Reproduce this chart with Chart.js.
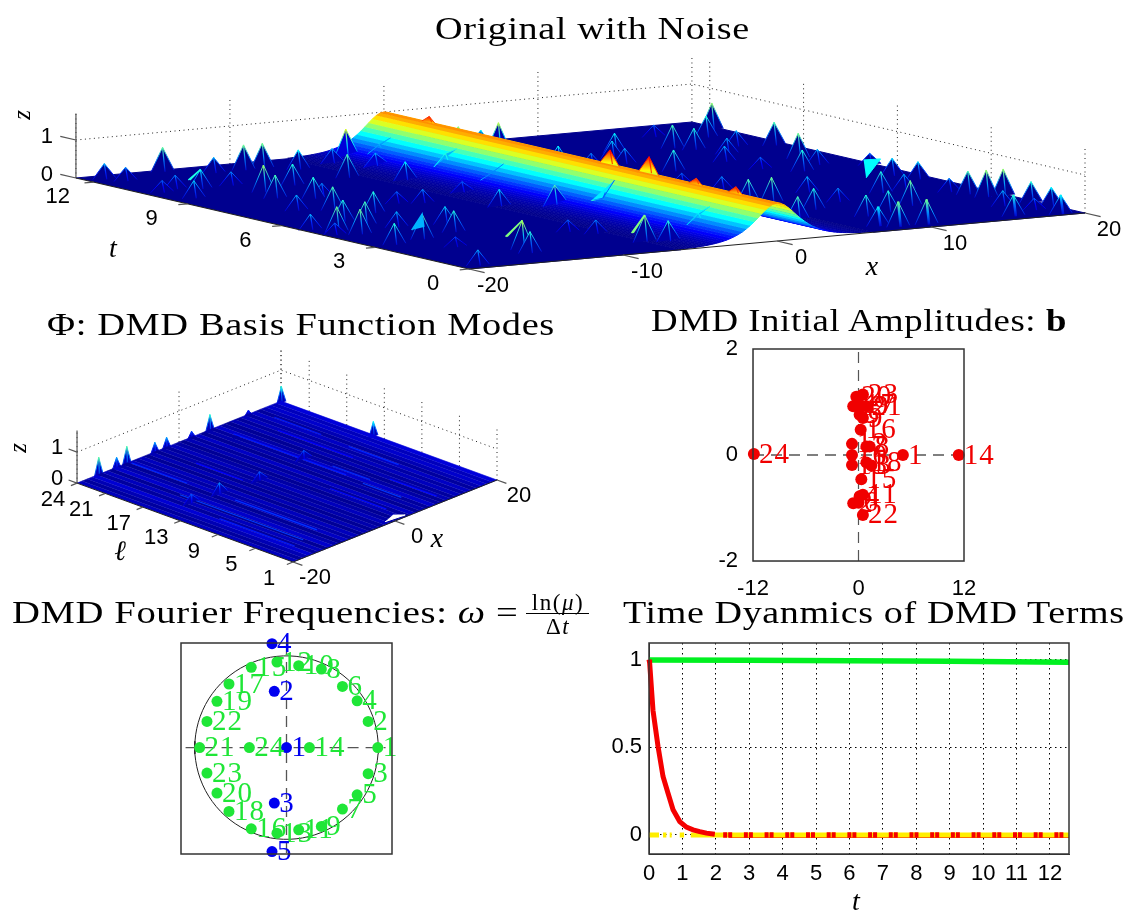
<!DOCTYPE html>
<html>
<head>
<meta charset="utf-8">
<title>DMD</title>
<script src="https://cdn.jsdelivr.net/npm/chart.js@4"></script>
<style>
  body { margin: 0; background: #fff; }
  #page { position: relative; width: 1135px; height: 913px; overflow: hidden; }
  canvas { position: absolute; left: 0; top: 0; }
  .ttl { position: absolute; white-space: nowrap; font-family: "Liberation Serif", serif; font-size: 31px; line-height: 34px; letter-spacing: 0.5px; color: #000; transform-origin: left center; }
  .frac { position: absolute; white-space: nowrap; font-family: "Liberation Serif", serif; font-size: 23px; line-height: 24px; letter-spacing: 1.5px; transform: translateX(-50%); }
</style>
</head>
<body>
<div id="page"></div>
<script>
// ---- top surface: noise spikes
const spikeX = [-18.83,-18.2,-14.6,-12.5,-10.5,-9.3,-7.8,-5.2,-3.7,-2.2,-2.04,-5.2,-7.2,-4.1,-11.3,-14,-14.7,-13,-14.4,-14.2,-16.3,-17.5,-18.5,-18.8,-13.1,-15.9,-16.2,-18.6,-18,-19.4,-16.2,-14.9,-18.5,-16.1,-12,-13.2,-8.8,-10.1,-6,-2.2,-3.7,-13.5,-13.85,-16.1,-18.8,-5.05,-12.3,-19.3,2.8,5.1,4.7,5.1,19.4,13.9,14.6,15.3,17.65,17.25,19.2,17.7,17.3,15.3,10.3,9,8.5,9.3,15.3,13.6,13.8,6.3,6.5,7.6,7.7,6.9,11.3,8.1,5.3,10.8,9.2,11.1,13.4,14.6,16.3,18.6,19.7,19.1,18,18.4,18.7,19.7,19.6,19.8,17.6,18.3,7.8,8.6,10.4,16.1,18.7,-6.3,-5.2,-1.9,-6.9,-7.8,-1.8];
const spikeT = [12.24,11.87,12.46,11.86,11.89,11.88,11.47,11.67,11.97,11.64,9.6,9.33,10.2,10.83,9.93,9.53,8.81,8.43,7.12,10.47,10.41,10.63,9.54,10.41,6.46,5.35,5.91,4.92,4.47,5.37,7.39,4.83,3.13,3.42,4.71,3.84,7,7.19,5.93,8.03,5.29,1.5,1.08,2.36,0.31,7.59,8.5,4.64,11.57,11.42,11.79,9.51,11.64,10.19,9.85,11.48,10.96,9.8,9.55,8.04,7.23,6.73,10.27,9.71,9.06,7.89,9.14,8.38,7.33,9.05,4.12,3.92,5.56,6.45,4.6,2.82,1.95,3.37,1.69,1.91,2.34,3.87,3.97,5.48,6.74,4.9,3.36,2.96,2.52,2.47,1.53,0.98,1.45,0.79,0.61,0.36,0.34,0.37,0.14,1.13,0.92,1.58,2.4,2.85,4.68];
const spikeZ = [0.4,0.35,0.63,0.4,0.65,0.65,0.5,0.4,0.8,0.4,0.55,0.5,0.6,0.4,0.55,0.7,0.6,0.55,0.6,0.35,0.5,0.35,0.45,0.3,0.55,0.6,0.55,0.65,0.65,0.4,0.4,0.4,0.55,0.65,0.45,0.55,0.35,0.3,0.45,0.35,0.6,0.75,0.55,0.25,0.4,0.3,0.35,0.3,0.7,0.75,0.5,0.5,0.7,0.6,0.55,0.3,0.55,0.4,0.6,0.65,0.4,0.55,0.5,0.45,0.4,0.55,0.4,0.4,0.3,0.35,0.6,0.65,0.35,0.3,0.4,0.55,0.6,0.35,0.55,0.55,0.65,0.55,0.4,0.45,0.3,0.45,0.35,0.6,0.7,0.7,0.55,0.5,0.4,0.3,0.5,0.65,0.65,0.55,0.5,0.7,0.55,0.5,0.35,0.3,0.3];
// spikes standing on the crest of the ridge
const crestT = [11.27,5.49,4.24,2.73,1.46];
const crestZ = [1.12,1.34,1.4,1.12,1.14];
// ridge cross section
const ridgeX = [6.25,6,5.75,5.5,5.25,5,4.75,4.5,4.25,4,3.75,3.5,3.25,3,2.75,2.5,2.25,2,1.75,1.5,1.25,1,0.75,0.5,0.25,0,-0.25,-0.5,-0.75,-1,-1.25,-1.5,-1.75,-2,-2.25,-2.5,-2.75,-3,-3.25,-3.5,-3.75,-4,-4.25,-4.5,-4.75,-5,-5.25,-5.5,-5.75,-6,-6.25];
const ridgeZ = [0.013,0.016,0.02,0.025,0.03,0.037,0.045,0.055,0.067,0.081,0.099,0.121,0.148,0.18,0.219,0.266,0.32,0.39,0.466,0.552,0.648,0.748,0.844,0.925,0.98,1,0.98,0.925,0.844,0.748,0.648,0.552,0.466,0.39,0.32,0.266,0.219,0.18,0.148,0.121,0.099,0.081,0.067,0.055,0.045,0.037,0.03,0.025,0.02,0.016,0.013];
// bright wedges: three (x,t,z) corners each, and their colour level
const wedgePts = [
  [-15.6,4,0.1,-16.1,3.42,0.65,-14.4,4.2,0.1],
  [-13.3,2.13,0.2,-13.5,1.5,0.75,-13.2,2.13,0.2],
  [-16.7,10.6,0.2,-16.3,10.41,0.5,-16.6,10.6,0.2],
  [-6.7,1.35,0.2,-6.3,1.13,0.7,-6.6,1.35,0.2],
  [17.3,5.75,0.4,18.3,5.7,0.4,16.1,5.08,0.1]
];
const wedgeLevel = [0.3,0.5,0.4,0.5,0.375];

const tTicks = [0,3,6,9,12];
const xTicks = [-20,-10,0,10,20];
const zTicks = [0,1];

// ---- second surface
const modeEdgeX = [-20,-19,-18,-17,-16,-15,-14,-13,-12,-11,-10,-9,-8,-7,-6,-5,-4,-3,-2,-1,0,1,2,3,4,5,6,7,8,9,10,11,12,13,14,15,16,17,18,19,20];
const modeBandZ = [0.08,0.04,0.07,0.11,0.04,0.08,0.03,0.1,0.06,0.03,0.09,0.05,0.08,0.03,0.07,0.03,0.06,0.04,0.08,0.05,0.03,0.07,0.04,0.09,0.03,0.06,0.04,0.1,0.05,0.03,0.07,0.04,0.08,0.05,0.09,0.04,0.07,0.1,0.08,0.12];
const modePeakX = [-16.3,-12.8,-10.8,-5.3,-3,1.9,5.5,13,19.5,19.5,7.3,-2.3,-9.4,-14.4,6.7];
const modePeakL = [23.7,23.7,23.7,23.7,23.7,23.7,23.7,23.7,23.7,13.9,14.7,14.2,14.6,14.9,21.4];
const modePeakZ = [0.48,0.3,0.47,0.29,0.3,0.2,0.43,0.15,0.42,0.38,0.2,0.2,0.25,0.2,0.1];
const streakX = [-10,-13.6,-9.8,7,8,14.5,15,6.4,-4,2,10,-16,12];
const streakL0 = [23.6,16.5,12.7,22,12,13.8,22,7.9,20,9,7,11,20];
const streakL1 = [17.7,3.4,4,10,8,8.5,17,3.8,15,3,2,3,12];
const streakZ = [0.22,0.25,0.24,0.2,0.22,0.22,0.2,0.24,0.17,0.18,0.18,0.2,0.17];
const modeGap = [[-1.1,1.46],[2.5,1.27],[1.3,1.94]];
const lTicks = [24,21,17,13,9,5,1];
const mxTicks = [-20,0,20];

// ---- DMD initial amplitudes, labelled points
const ampX = [5.05,-0.6,1.46,0.13,0.13,0,0.9,1.27,0.5,-0.74,0.5,-0.74,-0.74,11.4,0.32,0.25,0.13,0.9,-0.6,-0.25,0.9,0.5,0.5,-11.9];
const ampY = [0,-0.91,-0.2,-0.78,0.76,-0.9,0.16,0.16,0.7,0,-0.75,0.21,-0.19,0,-0.456,0.475,0.95,-0.14,0.92,1.1,0.92,-1.13,1.14,0.02];
const ampNames = ['1','2','3','4','5','6','7','8','9','10','11','12','13','14','15','16','17','18','19','20','21','22','23','24'];
const ampXTicks = [-12,0,12];
const ampYTicks = [-2,0,2];

// ---- Fourier frequencies, green and blue points
const greenX = [0.995,0.89,0.89,0.77,0.77,0.61,0.61,0.38,0.38,0.133,0.133,-0.104,-0.104,0.25,-0.384,-0.384,-0.627,-0.627,-0.758,-0.758,-0.947,-0.867,-0.867,-0.405];
const greenY = [0,0.285,-0.285,0.51,-0.515,0.667,-0.67,0.856,-0.86,0.893,-0.896,0.933,-0.933,0,0.875,-0.885,0.693,-0.696,0.504,-0.496,0,0.285,-0.278,0];
const blueX = [0,-0.133,-0.133,-0.158,-0.158];
const blueY = [0,0.613,-0.605,1.133,-1.133];
const blueNames = ['1','2','3','4','5'];

// ---- time dynamics
const greenT = [0,3,6,9,12.57];
const greenV = [0.998,0.996,0.994,0.991,0.985];
const redT = [0,0.02,0.12,0.27,0.42,0.57,0.72,0.92,1.12,1.32,1.52,1.72,1.97];
const redV = [1,0.98,0.71,0.505,0.333,0.238,0.143,0.076,0.044,0.029,0.019,0.01,0.004];
const yellowT = [0,0.3,null,0.42,0.52,null,0.62,0.68,null,0.92,1.05,null,1.25,1.6,12.57];
const timeXTicks = [0,1,2,3,4,5,6,7,8,9,10,11,12];
const timeYTicks = [0,0.5,1];

const page = document.getElementById('page');
const SANS = '"Liberation Sans", sans-serif';
const SERIF = '"Liberation Serif", serif';

function jet(z) {
  const v = Math.min(1, Math.max(0, z / 1.35));
  const ch = c => Math.round(255 * Math.min(1, Math.max(0, 1.5 - Math.abs(4 * v - c))));
  return `rgb(${ch(3)},${ch(2)},${ch(1)})`;
}

function newCanvas() {
  const c = document.createElement('canvas');
  c.width = 1135; c.height = 913;
  page.appendChild(c);
  return c;
}

// text at page positions or at value positions
const textPlugin = {
  id: 'textPlugin',
  afterDatasetsDraw(chart, args, opts) {
    const ctx = chart.ctx;
    (opts.items || []).forEach(t => {
      ctx.save();
      ctx.font = t.font;
      ctx.fillStyle = t.color || '#000';
      ctx.textAlign = t.align || 'center';
      ctx.textBaseline = 'middle';
      ctx.translate(t.x, t.y);
      if (t.rotate) ctx.rotate(t.rotate);
      ctx.fillText(t.text, 0, 0);
      ctx.restore();
    });
    (opts.labels || []).forEach(l => {
      ctx.save();
      ctx.font = `29px ${SERIF}`;
      ctx.fillStyle = l.color;
      ctx.letterSpacing = '1px';
      ctx.textBaseline = 'middle';
      l.names.forEach((n, i) => {
        ctx.fillText(n, chart.scales.x.getPixelForValue(l.xs[i]) + 5, chart.scales.y.getPixelForValue(l.ys[i]) + 1);
      });
      ctx.restore();
    });
  }
};

const framePlugin = {
  id: 'framePlugin',
  afterDraw(chart) {
    const a = chart.chartArea, ctx = chart.ctx;
    ctx.save();
    ctx.strokeStyle = '#333';
    ctx.lineWidth = 1.5;
    ctx.strokeRect(a.left, a.top, a.right - a.left, a.bottom - a.top);
    ctx.restore();
  }
};

function line(points, o) {
  o = o || {};
  return {
    data: points,
    pointRadius: 0,
    borderColor: o.color || 'rgba(0,0,0,0)',
    borderWidth: o.width === undefined ? 1 : o.width,
    borderDash: o.dash || [],
    backgroundColor: o.fillColor || 'rgba(0,0,0,0)',
    fill: o.fillColor ? 'shape' : false,
    clip: false,
    tension: 0
  };
}

function surfaceChart(sets, items) {
  const c = newCanvas();
  new Chart(c, {
    type: 'line',
    data: { datasets: sets.reverse() },
    options: {
      responsive: false,
      animation: false,
      events: [],
      layout: { padding: 0 },
      scales: {
        x: { type: 'linear', min: 0, max: 1135, display: false },
        y: { type: 'linear', min: 0, max: 913, reverse: true, display: false }
      },
      plugins: { legend: { display: false }, tooltip: { enabled: false }, textPlugin: { items } }
    },
    plugins: [textPlugin]
  });
}

const paint = document.createElement('canvas').getContext('2d');
function vGrad(y0, y1, stops) {
  const g = paint.createLinearGradient(0, y0, 0, y1);
  stops.forEach((s, i) => g.addColorStop(i / (stops.length - 1), s));
  return g;
}

function ridgeAt(x) {
  let best = 0, bd = 1e9;
  ridgeX.forEach(v => { const d = Math.abs(v - x); if (d < bd) { bd = d; best = v; } });
  return bd > 0.3 ? 0 : ridgeZ[ridgeX.indexOf(best)];
}

// one spike: a filled tent across x and a post down its middle
function spikeSets(P, x, t, z, dx, baseAt, post, level) {
  const zl = baseAt(x - dx), zr = baseAt(x + dx), zc = baseAt(x);
  const apex = P(x, t, z), l = P(x - dx, t, zl), r = P(x + dx, t, zr), c = P(x, t - 0.08, zc);
  const topZ = Math.min(z, 1.18);
  const top = jet(topZ), mid = jet(zc + (topZ - zc) * 0.55), low = jet(zc + 0.1);
  const edge = vGrad(apex.y, Math.max(l.y, r.y), [top, mid, low]);
  const body = zc > 0.8
    ? vGrad(apex.y, Math.max(l.y, r.y), [jet(1.15), jet(0.85), jet(0.65)])
    : jet((level || 0.02) + zc);
  return [
    line([l, apex, r], { color: edge, width: 1, fillColor: body }),
    line([apex, c], { color: edge, width: post ? 2.5 : 1.2 })
  ];
}

// ---- first surface
function P1(x, t, z) {
  return { x: 469 + 15.4 * (x + 20) - 31.27 * t, y: 269 - 1.4 * (x + 20) - 7.24 * t - 38 * z };
}
(function () {
  const TM = 12.57, ZM = 1.7, sets = [], items = [];
  const RX = ridgeX[0];
  const dotted = { color: '#222', width: 1, dash: [1, 3.5] };
  xTicks.forEach(x => sets.push(line([P1(x, TM, 0), P1(x, TM, ZM)], dotted)));
  tTicks.forEach(t => sets.push(line([P1(20, t, 0), P1(20, t, ZM)], dotted)));
  sets.push(line([P1(-20, TM, 1), P1(20, TM, 1), P1(20, 0, 1)], dotted));

  const floorCol = jet(0.02);
  sets.push(line([P1(RX, 0, 0), P1(20, 0, 0), P1(20, TM, 0), P1(RX, TM, 0)], { fillColor: floorCol, color: floorCol }));

  const order = spikeX.map((x, i) => i).sort((a, b) => P1(spikeX[a], spikeT[a], 0).y - P1(spikeX[b], spikeT[b], 0).y);
  const drawSpike = i => sets.push(...spikeSets(P1, spikeX[i], spikeT[i], spikeZ[i], 0.75, ridgeAt, spikeX[i] > 0 && spikeT[i] < 0.7));
  order.filter(i => spikeX[i] >= RX).forEach(drawSpike);

  const wedge = (w, i, width) => {
    const c = jet(wedgeLevel[i] * 1.35);
    sets.push(line([P1(w[0], w[1], w[2]), P1(w[3], w[4], w[5]), P1(w[6], w[7], w[8])], { fillColor: c, color: c, width }));
  };
  wedgePts.forEach((w, i) => { if (w[0] > 0) wedge(w, i, 1); });

  const band = i => {
    const c = jet((ridgeZ[i] + ridgeZ[i + 1]) / 2);
    sets.push(line([P1(ridgeX[i], 0, ridgeZ[i]), P1(ridgeX[i + 1], 0, ridgeZ[i + 1]), P1(ridgeX[i + 1], TM, ridgeZ[i + 1]), P1(ridgeX[i], TM, ridgeZ[i])], { fillColor: c, color: c }));
  };
  // rear slope, far to near, with the spikes that stand on it
  ridgeX.forEach((x, i) => {
    if (i < ridgeX.length - 1 && x > 0) {
      band(i);
      order.filter(k => spikeX[k] < x && spikeX[k] >= ridgeX[i + 1] && spikeX[k] > 0).forEach(drawSpike);
    }
  });
  crestT.forEach((t, i) => sets.push(...spikeSets(P1, 0.3, t, crestZ[i], 0.9, ridgeAt, false)));
  ridgeX.forEach((x, i) => { if (i < ridgeX.length - 1 && x <= 0) band(i); });

  sets.push(line([P1(-20, 0, 0), P1(-RX, 0, 0), P1(-RX, TM, 0), P1(-20, TM, 0)], { fillColor: floorCol, color: floorCol }));
  order.filter(i => spikeX[i] <= 0).forEach(drawSpike);
  wedgePts.forEach((w, i) => { if (w[0] <= 0) wedge(w, i, 1.5); });

  const axis = { color: '#222', width: 1.2 };
  sets.push(line([P1(-20, TM, 0), P1(-20, 0, 0), P1(20, 0, 0)], axis));
  sets.push(line([P1(-20, TM, 0), P1(-20, TM, ZM)], { color: '#555', width: 1.2 }));
  zTicks.forEach(z => {
    sets.push(line([P1(-20, TM, z), P1(-20, TM + 0.5, z)], { color: '#555', width: 1.2 }));
    const p = P1(-20, TM, z);
    items.push({ text: String(z), x: p.x - 29, y: p.y - 3, font: `22px ${SANS}` });
  });
  tTicks.forEach(t => {
    const p = P1(-20, t, 0);
    sets.push(line([p, P1(-20.6, t, 0)], { color: '#555', width: 1.2 }));
    items.push({ text: String(t), x: p.x - 36, y: p.y + 15, font: `22px ${SANS}` });
  });
  xTicks.forEach(x => {
    const p = P1(x, 0, 0);
    sets.push(line([p, P1(x, -0.5, 0)], { color: '#555', width: 1.2 }));
    items.push({ text: String(x), x: p.x + 24, y: p.y + 17, font: `22px ${SANS}` });
  });
  items.push({ text: 't', x: 113, y: 250, font: `italic 28px ${SERIF}` });
  items.push({ text: 'x', x: 872, y: 268, font: `italic 28px ${SERIF}` });
  items.push({ text: 'z', x: 23, y: 115, font: `italic 25px ${SERIF}`, rotate: -Math.PI / 2 });
  surfaceChart(sets, items);
})();

// ---- second surface
function P2(x, l, z) {
  return { x: 293 + 5.1 * (x + 20) - 9.39 * (l - 1), y: 562 - 2.05 * (x + 20) - 3.43 * (l - 1) - 31 * z };
}
(function () {
  const ZM = 1.7, sets = [], items = [];
  const dotted = { color: '#222', width: 1, dash: [1, 3.5] };
  mxTicks.forEach(x => sets.push(line([P2(x, 24, 0), P2(x, 24, ZM)], dotted)));
  lTicks.forEach(l => sets.push(line([P2(20, l, 0), P2(20, l, ZM)], dotted)));
  sets.push(line([P2(-20, 24, 1), P2(20, 24, 1), P2(20, 1, 1)], dotted));

  const none = () => 0;
  modePeakX.forEach((x, i) => { if (modePeakL[i] > 20) sets.push(...spikeSets(P2, x, modePeakL[i], modePeakZ[i] * 1.3, 0.9, none, false, 0.08)); });
  sets.push(...spikeSets(P2, modePeakX[9], modePeakL[9], modePeakZ[9] * 1.3, 0.9, none, false, 0.08));
  modeBandZ.forEach((z, i) => {
    const c = jet(z);
    sets.push(line([P2(modeEdgeX[i], 1, 0), P2(modeEdgeX[i + 1], 1, 0), P2(modeEdgeX[i + 1], 24, 0), P2(modeEdgeX[i], 24, 0)], { fillColor: c, color: c, width: 0.6 }));
  });
  streakX.forEach((x, i) => sets.push(line([P2(x, streakL0[i], 0.03), P2(x, streakL1[i], 0.03)], { color: jet(streakZ[i]), width: 1.2 })));
  modePeakX.forEach((x, i) => {
    if (modePeakL[i] <= 20 && i !== 9) sets.push(...spikeSets(P2, x, modePeakL[i], modePeakZ[i] * 1.4, 1.6, none, false, 0.07));
  });
  sets.push(line(modeGap.map(g => P2(g[0], g[1], 0)), { fillColor: '#fff', color: '#fff' }));

  sets.push(line([P2(-20, 24, 0), P2(-20, 24, ZM)], { color: '#555', width: 1.2 }));
  sets.push(line([P2(-20, 24, 0), P2(-20, 1, 0), P2(20, 1, 0)], { color: '#222', width: 1 }));
  zTicks.forEach(z => {
    const p = P2(-20, 24, z);
    sets.push(line([p, P2(-20, 24.9, z)], { color: '#555', width: 1.2 }));
    items.push({ text: String(z), x: p.x - 20, y: p.y - 4, font: `22px ${SANS}` });
  });
  lTicks.forEach(l => {
    const p = P2(-20, l, 0);
    sets.push(line([p, P2(-21.2, l, 0)], { color: '#555', width: 1.2 }));
    items.push({ text: String(l), x: p.x - 24, y: p.y + 17, font: `22px ${SANS}` });
  });
  mxTicks.forEach(x => {
    const p = P2(x, 1, 0);
    sets.push(line([p, P2(x, 0, 0)], { color: '#555', width: 1.2 }));
    items.push({ text: String(x), x: p.x + 22, y: p.y + 16, font: `22px ${SANS}` });
  });
  items.push({ text: '\u2113', x: 120, y: 553, font: `italic 28px ${SERIF}` });
  items.push({ text: 'x', x: 437, y: 540, font: `italic 28px ${SERIF}` });
  items.push({ text: 'z', x: 19, y: 448, font: `italic 25px ${SERIF}`, rotate: -Math.PI / 2 });
  surfaceChart(sets, items);
})();

// chart area placed on the page by padding, with fixed room for the axes
function boxPadding(l, t, r, b, axes) {
  return axes
    ? { left: l - 50, top: t, right: 1135 - r, bottom: 913 - b - 35 }
    : { left: l, top: t, right: 1135 - r, bottom: 913 - b };
}
function fixedTicks(list) {
  return s => { s.ticks = list.map(v => ({ value: v })); };
}
const tickStyle = { color: '#000', font: { family: 'Liberation Sans', size: 22 }, padding: 7, autoSkip: false, maxRotation: 0, minRotation: 0, callback: v => String(v) };

// ---- amplitudes
new Chart(newCanvas(), {
  type: 'line',
  data: {
    datasets: [
      { data: ampX.map((x, i) => ({ x, y: ampY[i] })), showLine: false, pointRadius: 6, pointBackgroundColor: '#f00000', pointBorderWidth: 0, clip: false },
      line([{ x: -12, y: 0 }, { x: 12, y: 0 }], { color: '#000', width: 1.2, dash: [11, 7] }),
      line([{ x: 0, y: -2 }, { x: 0, y: 2 }], { color: '#555', width: 1.2, dash: [11, 7] })
    ]
  },
  options: {
    responsive: false, animation: false, events: [],
    layout: { padding: boxPadding(753, 349, 964, 561, true) },
    scales: {
      x: { type: 'linear', min: -12, max: 12, grid: { display: false }, ticks: tickStyle, afterBuildTicks: fixedTicks(ampXTicks), afterFit: s => { s.height = 35; } },
      y: { type: 'linear', min: -2, max: 2, grid: { display: false }, ticks: tickStyle, afterBuildTicks: fixedTicks(ampYTicks), afterFit: s => { s.width = 50; } }
    },
    plugins: {
      legend: { display: false }, tooltip: { enabled: false },
      textPlugin: { labels: [{ names: ampNames, xs: ampX, ys: ampY, color: '#f00000' }] }
    }
  },
  plugins: [textPlugin, framePlugin]
});

// ---- Fourier frequencies
const circle = [];
for (let a = 0; a <= 360; a += 4) circle.push({ x: Math.cos(a * Math.PI / 180), y: Math.sin(a * Math.PI / 180) });
new Chart(newCanvas(), {
  type: 'line',
  data: {
    datasets: [
      { data: blueX.map((x, i) => ({ x, y: blueY[i] })), showLine: false, pointRadius: 5.5, pointBackgroundColor: '#0000f0', pointBorderWidth: 0, clip: false },
      { data: greenX.map((x, i) => ({ x, y: greenY[i] })), showLine: false, pointRadius: 5.5, pointBackgroundColor: '#1fe637', pointBorderWidth: 0, clip: false },
      line(circle, { color: '#222', width: 1 }),
      line([{ x: -1.1, y: 0 }, { x: 1.08, y: 0 }], { color: '#555', width: 1.3, dash: [11, 7] }),
      line([{ x: 0, y: -1.15 }, { x: 0, y: 1.13 }], { color: '#555', width: 1.3, dash: [11, 7] })
    ]
  },
  options: {
    responsive: false, animation: false, events: [],
    layout: { padding: boxPadding(181, 643, 392, 854, false) },
    scales: {
      x: { type: 'linear', min: -1.15, max: 1.15, display: false },
      y: { type: 'linear', min: -1.16, max: 1.14, display: false }
    },
    plugins: {
      legend: { display: false }, tooltip: { enabled: false },
      textPlugin: {
        labels: [
          { names: ampNames, xs: greenX, ys: greenY, color: '#1fe637' },
          { names: blueNames, xs: blueX, ys: blueY, color: '#0000f0' }
        ]
      }
    }
  },
  plugins: [textPlugin, framePlugin]
});

// ---- time dynamics
new Chart(newCanvas(), {
  type: 'line',
  data: {
    datasets: [
      line(redT.map((t, i) => ({ x: t, y: redV[i] })), { color: '#f50000', width: 5 }),
      line([{ x: 2.22, y: 0 }, { x: 12.57, y: 0 }], { color: '#f50000', width: 5.5, dash: [4, 1, 4, 11.7] }),
      line(yellowT.map(t => ({ x: t, y: t === null ? null : 0 })), { color: '#ffee00', width: 5 }),
      line([{ x: 2.4, y: -0.014 }, { x: 12.57, y: -0.014 }], { color: '#f50000', width: 1.5 }),
      line(greenT.map((t, i) => ({ x: t, y: greenV[i] })), { color: '#00f020', width: 5.5 })
    ]
  },
  options: {
    responsive: false, animation: false, events: [],
    layout: { padding: boxPadding(649, 643, 1069, 854, true) },
    scales: {
      x: {
        type: 'linear', min: 0, max: 12.57,
        grid: { color: '#000', drawTicks: false }, border: { dash: [1.5, 3.5], color: '#333' },
        ticks: tickStyle, afterBuildTicks: fixedTicks(timeXTicks), afterFit: s => { s.height = 35; }
      },
      y: {
        type: 'linear', min: -0.109, max: 1.095,
        grid: { color: '#000', drawTicks: false }, border: { dash: [1.5, 3.5], color: '#333' },
        ticks: tickStyle, afterBuildTicks: fixedTicks(timeYTicks), afterFit: s => { s.width = 50; }
      }
    },
    plugins: {
      legend: { display: false }, tooltip: { enabled: false },
      textPlugin: { items: [{ text: 't', x: 856, y: 903, font: `italic 28px ${SERIF}` }] }
    }
  },
  plugins: [textPlugin, framePlugin]
});

// ---- titles, stretched to the width they have in the picture
const titles = [
  { html: 'Original with Noise', l: 435, r: 750, cy: 29 },
  { html: '\u03A6: DMD Basis Function Modes', l: 47, r: 555, cy: 325 },
  { html: 'DMD Initial Amplitudes: <b>b</b>', l: 651, r: 1067, cy: 321 },
  { html: 'DMD Fourier Frequencies: <i>\u03C9</i> =', l: 12, r: 518, cy: 613 },
  { html: 'Time Dyanmics of DMD Terms', l: 623, r: 1125, cy: 613 }
];
titles.forEach(t => {
  const d = document.createElement('div');
  d.className = 'ttl';
  d.innerHTML = t.html;
  page.appendChild(d);
  d.style.transform = `scaleX(${(t.r - t.l) / d.offsetWidth})`;
  d.style.left = t.l + 'px';
  d.style.top = (t.cy - 17) + 'px';
});
[['ln(<i>\u03BC</i>)', 558, 591], ['\u0394<i>t</i>', 558, 615]].forEach(f => {
  const d = document.createElement('div');
  d.className = 'frac';
  d.innerHTML = f[0];
  d.style.left = f[1] + 'px';
  d.style.top = f[2] + 'px';
  page.appendChild(d);
});
const bar = document.createElement('div');
bar.style.cssText = 'position:absolute;left:526px;top:613px;width:63px;height:1px;background:#000';
page.appendChild(bar);
</script>
</body>
</html>
